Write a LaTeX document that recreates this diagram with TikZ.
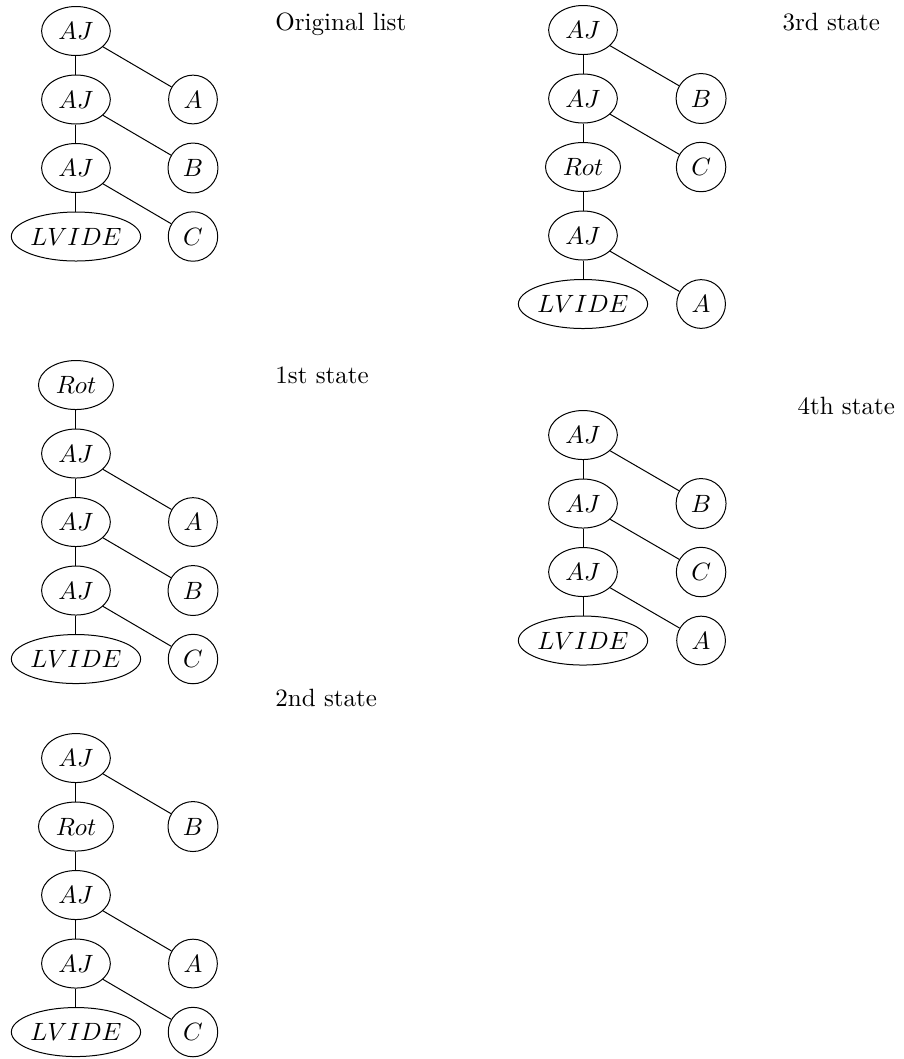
\documentclass[tikz,border=0pt]{standalone}
\usepackage{amsmath, amssymb}
\usetikzlibrary{shapes.geometric}

\begin{document}
\begin{tikzpicture}[
        ell/.style={draw, ellipse, inner sep=0pt, minimum height=19.6pt, minimum width=27.5pt},
        rotnode/.style={ell, minimum width=30pt},
        leaf/.style={draw, circle},
        caption/.style={anchor=base west, inner sep=0pt}]
    \useasboundingbox (0, 0) rectangle (12.709, -14.888);

    % original list
    \begin{scope}[shift={(1.068, -0.436)}]
        \node[ell] (o1) at (0, 0) {$AJ$};
        \node[ell] (o2) at (0, -0.963) {$AJ$};
        \node[ell] (o3) at (0, -1.926) {$AJ$};
        \node[ell] (o4) at (0, -2.889) {$LVIDE$};
        \node[leaf] (oa) at (1.645, -0.963) {$A$};
        \node[leaf] (ob) at (1.645, -1.926) {$B$};
        \node[leaf] (oc) at (1.645, -2.889) {$C$};

        \draw (o1) -- (o2) -- (o3) -- (o4);
        \draw (o1) -- (oa);
        \draw (o2) -- (ob);
        \draw (o3) -- (oc);
    \end{scope}

    % 1st state
    \begin{scope}[shift={(1.068, -5.413)}]
        \node[rotnode] (f1) at (0, 0) {$Rot$};
        \node[ell] (f2) at (0, -0.963) {$AJ$};
        \node[ell] (f3) at (0, -1.926) {$AJ$};
        \node[ell] (f4) at (0, -2.889) {$AJ$};
        \node[ell] (f5) at (0, -3.852) {$LVIDE$};
        \node[leaf] (fa) at (1.645, -1.926) {$A$};
        \node[leaf] (fb) at (1.645, -2.889) {$B$};
        \node[leaf] (fc) at (1.645, -3.852) {$C$};

        \draw (f1) -- (f2) -- (f3) -- (f4) -- (f5);
        \draw (f2) -- (fa);
        \draw (f3) -- (fb);
        \draw (f4) -- (fc);
    \end{scope}

    % 2nd state
    \begin{scope}[shift={(1.068, -10.657)}]
        \node[ell] (s1) at (0, 0) {$AJ$};
        \node[rotnode] (s2) at (0, -0.963) {$Rot$};
        \node[ell] (s3) at (0, -1.926) {$AJ$};
        \node[ell] (s4) at (0, -2.889) {$AJ$};
        \node[ell] (s5) at (0, -3.852) {$LVIDE$};
        \node[leaf] (sb) at (1.645, -0.963) {$B$};
        \node[leaf] (sa) at (1.645, -2.889) {$A$};
        \node[leaf] (sc) at (1.645, -3.852) {$C$};

        \draw (s1) -- (s2) -- (s3) -- (s4) -- (s5);
        \draw (s1) -- (sb);
        \draw (s3) -- (sa);
        \draw (s4) -- (sc);
    \end{scope}

    % 3rd state
    \begin{scope}[shift={(8.196, -0.422)}]
        \node[ell] (t1) at (0, 0) {$AJ$};
        \node[ell] (t2) at (0, -0.963) {$AJ$};
        \node[rotnode] (t3) at (0, -1.926) {$Rot$};
        \node[ell] (t4) at (0, -2.889) {$AJ$};
        \node[ell] (t5) at (0, -3.852) {$LVIDE$};
        \node[leaf] (tb) at (1.66, -0.963) {$B$};
        \node[leaf] (tc) at (1.66, -1.926) {$C$};
        \node[leaf] (ta) at (1.66, -3.852) {$A$};

        \draw (t1) -- (t2) -- (t3) -- (t4) -- (t5);
        \draw (t1) -- (tb);
        \draw (t2) -- (tc);
        \draw (t4) -- (ta);
    \end{scope}

    % 4th state
    \begin{scope}[shift={(8.196, -6.116)}]
        \node[ell] (q1) at (0, 0) {$AJ$};
        \node[ell] (q2) at (0, -0.963) {$AJ$};
        \node[ell] (q3) at (0, -1.926) {$AJ$};
        \node[ell] (q4) at (0, -2.889) {$LVIDE$};
        \node[leaf] (qb) at (1.66, -0.963) {$B$};
        \node[leaf] (qc) at (1.66, -1.926) {$C$};
        \node[leaf] (qa) at (1.66, -2.889) {$A$};

        \draw (q1) -- (q2) -- (q3) -- (q4);
        \draw (q1) -- (qb);
        \draw (q2) -- (qc);
        \draw (q3) -- (qa);
    \end{scope}

    \node[caption] (lo) at (3.866, -0.422) {Original list};
    \node[caption] (l1) at (3.866, -5.385) {1st state};
    \node[caption] (l2) at (3.866, -9.926) {2nd state};
    \node[caption] (l3) at (10.994, -0.422) {3rd state};
    \node[caption] (l4) at (11.205, -5.834) {4th state};
\end{tikzpicture}
\end{document}
